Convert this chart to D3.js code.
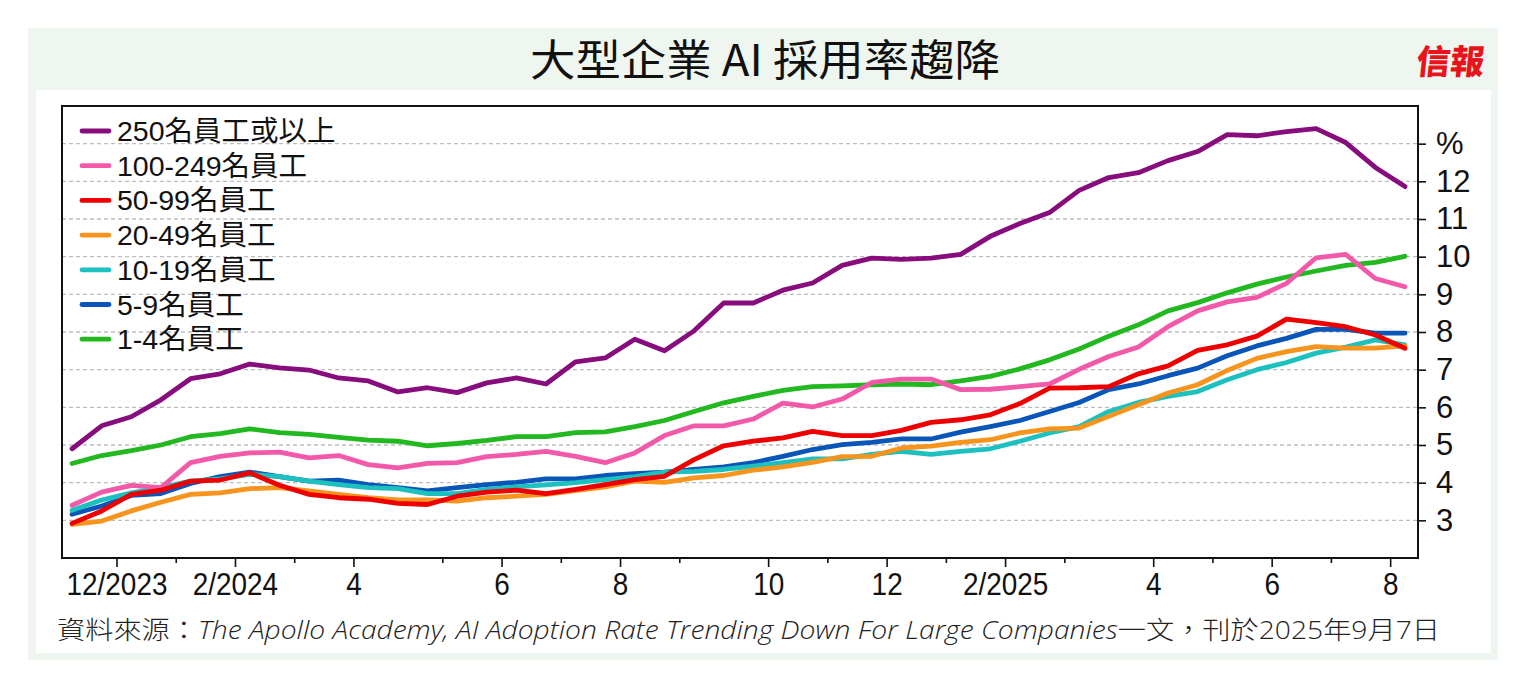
<!DOCTYPE html>
<html>
<head>
<meta charset="utf-8">
<script src="https://cdn.jsdelivr.net/npm/d3@7"></script>
<style>
  body { margin: 0; background: #fff; }
  svg { display: block; }
</style>
</head>
<body>
<svg width="1524" height="680"></svg>
<script>
// month of each biweekly reading
const months = [
  '2023-11','2023-11','2023-12','2023-12','2024-01','2024-01','2024-02','2024-02',
  '2024-03','2024-03','2024-04','2024-04','2024-04','2024-05','2024-05','2024-06',
  '2024-06','2024-07','2024-07','2024-08','2024-08','2024-09','2024-09','2024-09',
  '2024-10','2024-10','2024-11','2024-11','2024-12','2024-12','2025-01','2025-01',
  '2025-02','2025-02','2025-03','2025-03','2025-03','2025-04','2025-04','2025-05',
  '2025-05','2025-06','2025-06','2025-07','2025-07','2025-08'
];

const seriesNames = ['250名員工或以上', '100-249名員工', '50-99名員工', '20-49名員工', '10-19名員工', '5-9名員工', '1-4名員工'];

const s250 = [4.90,5.51,5.75,6.20,6.76,6.89,7.15,7.05,6.99,6.78,6.70,6.41,6.52,6.39,6.65,6.78,
  6.62,7.21,7.31,7.81,7.50,8.03,8.77,8.77,9.11,9.30,9.77,9.96,9.93,9.96,10.06,10.54,
  10.88,11.17,11.76,12.10,12.23,12.55,12.79,13.24,13.21,13.32,13.40,13.03,12.37,11.86];
const s100 = [3.40,3.75,3.93,3.87,4.53,4.70,4.79,4.81,4.66,4.72,4.48,4.39,4.51,4.53,4.69,4.75,
  4.83,4.70,4.53,4.79,5.25,5.51,5.51,5.69,6.11,6.01,6.22,6.66,6.75,6.75,6.47,6.48,
  6.55,6.62,7.01,7.35,7.60,8.14,8.56,8.80,8.92,9.29,9.97,10.06,9.42,9.20];
const s50 = [2.92,3.25,3.69,3.80,4.04,4.07,4.26,3.93,3.69,3.60,3.56,3.45,3.42,3.64,3.75,3.80,
  3.71,3.82,3.95,4.08,4.17,4.61,4.98,5.10,5.19,5.36,5.25,5.25,5.39,5.60,5.67,5.80,
  6.10,6.51,6.52,6.55,6.89,7.10,7.51,7.66,7.89,8.34,8.25,8.14,7.92,7.57];
const s20 = [2.89,2.98,3.25,3.48,3.69,3.73,3.84,3.87,3.78,3.69,3.60,3.54,3.54,3.51,3.60,3.64,
  3.69,3.79,3.89,4.04,4.01,4.13,4.19,4.33,4.42,4.54,4.69,4.70,4.92,4.97,5.07,5.14,
  5.32,5.43,5.45,5.76,6.07,6.38,6.60,6.98,7.30,7.48,7.61,7.57,7.57,7.63];
const s10 = [3.27,3.54,3.73,3.87,4.04,4.10,4.22,4.16,4.04,3.95,3.87,3.84,3.71,3.71,3.82,3.89,
  3.94,4.00,4.08,4.16,4.28,4.30,4.35,4.44,4.53,4.63,4.63,4.75,4.83,4.75,4.83,4.90,
  5.10,5.32,5.49,5.89,6.13,6.29,6.42,6.73,7.00,7.19,7.44,7.60,7.79,7.66];
const s5 = [3.16,3.38,3.66,3.71,3.98,4.16,4.28,4.16,4.04,4.07,3.95,3.87,3.78,3.87,3.95,4.01,
  4.10,4.10,4.19,4.24,4.28,4.35,4.42,4.53,4.70,4.88,5.01,5.07,5.16,5.16,5.34,5.49,
  5.65,5.89,6.13,6.47,6.62,6.84,7.04,7.37,7.63,7.83,8.07,8.07,7.97,7.97];
const s1 = [4.51,4.72,4.85,5.00,5.22,5.30,5.43,5.33,5.28,5.20,5.13,5.10,4.98,5.04,5.12,5.22,
  5.22,5.33,5.35,5.49,5.65,5.89,6.12,6.29,6.45,6.55,6.57,6.60,6.62,6.60,6.70,6.82,
  7.02,7.26,7.55,7.89,8.19,8.56,8.78,9.04,9.27,9.46,9.62,9.77,9.85,10.01];

const seriesValues = [s250, s100, s50, s20, s10, s5, s1];
const colors = ['#870c7c', '#f25aa9', '#ee0000', '#f7941d', '#1cc0bf', '#0a55b8', '#22b81f'];

const yTicks = [3, 4, 5, 6, 7, 8, 9, 10, 11, 12, 13];

let svg = d3.select('svg');

// background panels
svg.append('rect').attr('x', 28).attr('y', 28).attr('width', 1470).attr('height', 632).attr('fill', '#eff6ef');
svg.append('rect').attr('x', 36).attr('y', 90).attr('width', 1455).attr('height', 563).attr('fill', '#ffffff');

// title + logo
svg.append('text')
    .attr('x', 765).attr('y', 76)
    .attr('text-anchor', 'middle')
    .attr('textLength', 470).attr('lengthAdjust', 'spacingAndGlyphs')
    .style('font-family', '"Noto Sans CJK TC", sans-serif')
    .style('font-size', '43px').style('font-weight', 400)
    .attr('fill', '#111')
    .text('大型企業 AI 採用率趨降');
svg.append('text')
    .attr('x', 1450).attr('y', 74)
    .attr('text-anchor', 'middle')
    .attr('transform', 'skewX(-6)')
    .attr('dx', 7)
    .style('font-family', '"Noto Sans CJK TC", serif')
    .style('font-size', '34px').style('font-weight', 900)
    .attr('fill', '#e8141b')
    .text('信報');

let plotL = 62, plotR = 1418, plotT = 106, plotB = 558;

let x = d3.scaleLinear().domain([-0.34, 45.44]).range([plotL, plotR]);
let y = d3.scaleLinear().domain([2, 14]).range([plotB, plotT]);

// gridlines
svg.append('g').attr('class', 'grid')
    .selectAll('line')
    .data(yTicks)
    .join('line')
    .attr('x1', plotL).attr('x2', plotR)
    .attr('y1', d => y(d)).attr('y2', d => y(d))
    .attr('stroke', '#bdbdbd')
    .attr('stroke-width', 1.3)
    .attr('stroke-dasharray', '4,3');

// month ticks where the month changes
let monthTicks = [];
months.forEach(function(m, i) {
    if (i > 0 && m !== months[i - 1]) {
        let yr = +m.slice(0, 4), mo = +m.slice(5, 7);
        monthTicks.push({ pos: i - 0.5, year: yr, month: mo, major: mo % 2 === 0 });
    }
});
let majors = monthTicks.filter(d => d.major);
let minors = monthTicks.filter(d => !d.major);

let tickFmt = function(v) {
    let t = majors.find(d => d.pos === v);
    if (!t) return '';
    if (t === majors[0] || t.month === 2) return t.month + '/' + t.year;
    return t.month;
};

svg.append('g')
    .attr('transform', 'translate(0,' + plotB + ')')
    .call(d3.axisBottom(x).tickValues(minors.map(d => d.pos)).tickSize(5).tickFormat(''))
    .call(g => g.select('.domain').remove())
    .call(g => g.selectAll('line').attr('stroke', '#111').attr('stroke-width', 1.6));

svg.append('g')
    .attr('transform', 'translate(0,' + plotB + ')')
    .call(d3.axisBottom(x).tickValues(majors.map(d => d.pos)).tickSize(9).tickPadding(6).tickFormat(tickFmt))
    .call(g => g.select('.domain').remove())
    .call(g => g.selectAll('line').attr('stroke', '#111').attr('stroke-width', 1.6))
    .call(g => g.selectAll('text')
        .attr('fill', '#111')
        .attr('transform', 'scale(0.9,1)')
        .style('font-family', '"Liberation Sans Narrow", "Liberation Sans", sans-serif')
        .style('font-size', '31px'));

svg.append('g')
    .attr('transform', 'translate(' + plotR + ',0)')
    .call(d3.axisRight(y).tickValues(yTicks).tickSize(8).tickPadding(10).tickFormat(d => d === 13 ? '%' : d))
    .call(g => g.select('.domain').remove())
    .call(g => g.selectAll('line').attr('stroke', '#111').attr('stroke-width', 1.6))
    .call(g => g.selectAll('text')
        .attr('fill', '#111')
        .style('font-family', '"Liberation Sans Narrow", "Liberation Sans", sans-serif')
        .style('font-size', '31px'));

// series lines
let line = d3.line()
    .x((d, i) => x(i))
    .y(d => y(d));

let drawOrder = [6, 5, 4, 3, 1, 2, 0];
svg.append('g').attr('class', 'lines')
    .selectAll('path')
    .data(drawOrder)
    .join('path')
    .attr('d', k => line(seriesValues[k]))
    .attr('fill', 'none')
    .attr('stroke', k => colors[k])
    .attr('stroke-width', 4.8)
    .attr('stroke-linejoin', 'round')
    .attr('stroke-linecap', 'round');

// legend
let legend = svg.append('g').attr('class', 'legend')
    .selectAll('g')
    .data(seriesNames)
    .join('g')
    .attr('transform', (d, i) => 'translate(82,' + (131 + i * 34.7) + ')');
legend.append('line')
    .attr('x1', 0).attr('x2', 27)
    .attr('stroke', (d, i) => colors[i])
    .attr('stroke-width', 4.8)
    .attr('stroke-linecap', 'round');
legend.append('text')
    .attr('x', 35).attr('y', 10)
    .attr('fill', '#111')
    .style('font-family', '"Liberation Sans", "Noto Sans CJK TC", sans-serif')
    .style('font-size', '28.5px')
    .text(d => d);

// frame
svg.append('rect')
    .attr('x', plotL).attr('y', plotT)
    .attr('width', plotR - plotL).attr('height', plotB - plotT)
    .attr('fill', 'none')
    .attr('stroke', '#111')
    .attr('stroke-width', 2);

// source note
let note = svg.append('text')
    .attr('x', 57).attr('y', 639)
    .attr('textLength', 1383).attr('lengthAdjust', 'spacingAndGlyphs')
    .attr('fill', '#222')
    .style('font-family', '"Open Sans", "Noto Sans CJK TC", sans-serif')
    .style('font-size', '25px')
    .style('font-weight', 300);
note.append('tspan').style('font-family', '"Noto Sans CJK TC", sans-serif').text('資料來源：');
note.append('tspan').style('font-style', 'italic').text('The Apollo Academy, AI Adoption Rate Trending Down For Large Companies');
note.append('tspan').style('font-family', '"Noto Sans CJK TC", sans-serif').text('一文，刊於');
note.append('tspan').text('2025');
note.append('tspan').style('font-family', '"Noto Sans CJK TC", sans-serif').text('年');
note.append('tspan').text('9');
note.append('tspan').style('font-family', '"Noto Sans CJK TC", sans-serif').text('月');
note.append('tspan').text('7');
note.append('tspan').style('font-family', '"Noto Sans CJK TC", sans-serif').text('日');
</script>
</body>
</html>
